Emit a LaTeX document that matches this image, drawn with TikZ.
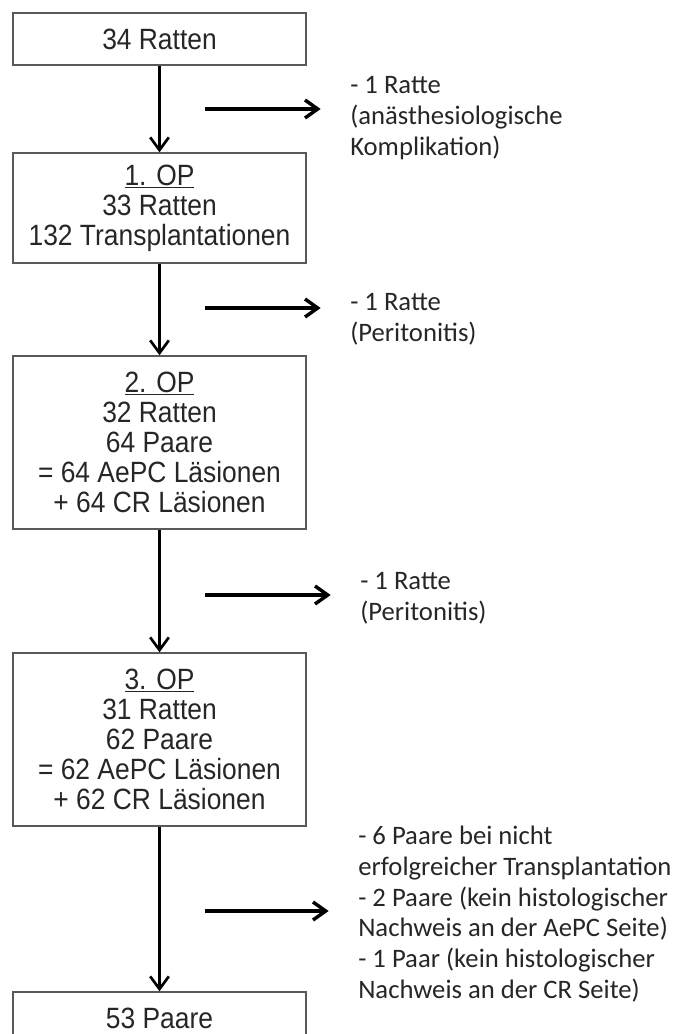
\documentclass[tikz,border=0pt]{standalone}
\usepackage{fontspec}
\setmainfont{Liberation Sans}[FakeStretch=0.9]
\newfontfamily\notefont{Carlito}
\usetikzlibrary{arrows.meta}
\usetikzlibrary{positioning}

\tikzset{
  stage/.style={draw=black!65, line width=1.1pt, minimum width=219.75pt,
    inner sep=0pt, align=center, text=black!85,
    font=\fontsize{22}{22.6}\selectfont},
  loss/.style={anchor=west, inner sep=0pt, align=left, text=black!85,
    font=\notefont\fontsize{20}{23}\selectfont},
  flow/.style={line width=2pt, -{Straight Barb[length=9.5pt,width=14pt]}},
  drop/.style={line width=2.6pt, shorten >=22pt,
    -{Straight Barb[length=9.5pt,width=13.5pt]}},
}

\begin{document}
\begin{tikzpicture}[x=0.75pt,y=-0.75pt]
  \clip (0,0) rectangle (672,1034);

  % Stufen
  \node [stage, minimum height=39pt] (start) at (159.5,39) {34 Ratten};
  \node [stage, minimum height=82.5pt] (op1) at (159.5,208)
    {\underline{1. OP}\\33 Ratten\\132 Transplantationen};
  \node [stage, minimum height=129.75pt] (op2) at (159.5,442.5)
    {\underline{2. OP}\\32 Ratten\\64 Paare\\= 64 AePC L\"asionen\\+ 64 CR L\"asionen};
  \node [stage, minimum height=129.75pt] (op3) at (159.5,739.5)
    {\underline{3. OP}\\31 Ratten\\62 Paare\\= 62 AePC L\"asionen\\+ 62 CR L\"asionen};
  \node [stage, minimum height=39pt] (result) at (159.5,1018) {53 Paare};

  \draw [flow] (start) -- (op1);
  \draw [flow] (op1) -- (op2);
  \draw [flow] (op2) -- (op3);
  \draw [flow] (op3) -- (result);

  % Ausfaelle
  \node [loss] (loss1) at (350,118) {- 1 Ratte\\(an\"asthesiologische\\Komplikation)};
  \node [loss] (loss2) at (350,319) {- 1 Ratte\\(Peritonitis)};
  \node [loss] (loss3) at (360,598) {- 1 Ratte\\(Peritonitis)};
  \node [loss] (loss4) at (358,914) {- 6 Paare bei nicht\\erfolgreicher Transplantation\\- 2 Paare (kein histologischer\\Nachweis an der AePC Seite)\\- 1 Paar (kein histologischer\\Nachweis an der CR Seite)};

  \coordinate (d1) at (205,109);
  \coordinate (d2) at (205,308);
  \coordinate (d3) at (205,595);
  \coordinate (d4) at (205,911);
  \draw [drop] (d1) -- (d1 -| loss1.west);
  \draw [drop] (d2) -- (d2 -| loss2.west);
  \draw [drop] (d3) -- (d3 -| loss3.west);
  \draw [drop] (d4) -- (d4 -| loss4.west);
\end{tikzpicture}
\end{document}
